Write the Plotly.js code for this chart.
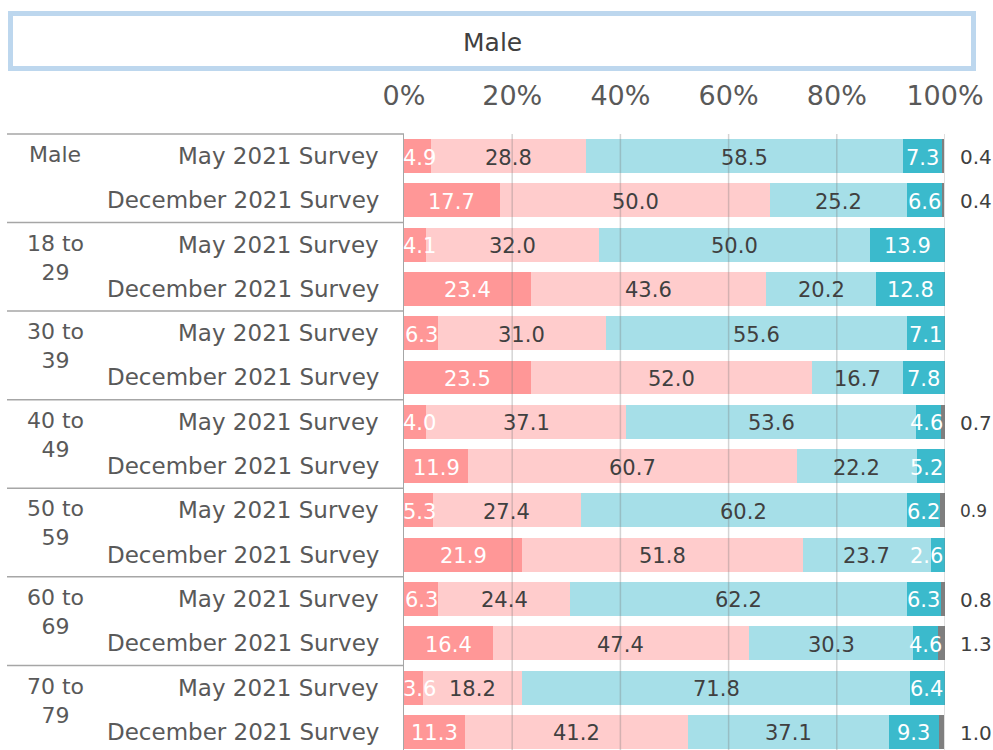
<!DOCTYPE html>
<html>
<head>
<meta charset="utf-8">
<script src="https://cdn.plot.ly/plotly-3.0.1.min.js"></script>
<style>html,body{margin:0;padding:0;background:#fff;}#chart{width:993px;height:750px;}</style>
</head>
<body>
<div id="chart"></div>
<script>
// ---- data ----
const chartTitle = 'Male';
const groupLabels = ['Male', '18 to<br>29', '30 to<br>39', '40 to<br>49', '50 to<br>59', '60 to<br>69', '70 to<br>79'];
const surveyLabels = ['May 2021 Survey', 'December 2021 Survey'];
const tickValues = [0, 20, 40, 60, 80, 100];
const tickLabels = ['0%', '20%', '40%', '60%', '80%', '100%'];

const seriesA = [4.9, 17.7, 4.1, 23.4, 6.3, 23.5, 4.0, 11.9, 5.3, 21.9, 6.3, 16.4, 3.6, 11.3];
const seriesB = [28.8, 50.0, 32.0, 43.6, 31.0, 52.0, 37.1, 60.7, 27.4, 51.8, 24.4, 47.4, 18.2, 41.2];
const seriesC = [58.5, 25.2, 50.0, 20.2, 55.6, 16.7, 53.6, 22.2, 60.2, 23.7, 62.2, 30.3, 71.8, 37.1];
const seriesD = [7.3, 6.6, 13.9, 12.8, 7.1, 7.8, 4.6, 5.2, 6.2, 2.6, 6.3, 4.6, 6.4, 9.3];
const seriesE = [0.4, 0.4, null, null, null, null, 0.7, null, 0.9, null, 0.8, 1.3, null, 1.0];

// ---- build ----
const rowLabels = [];
groupLabels.forEach(() => surveyLabels.forEach(s => rowLabels.push(s)));
const rows = rowLabels.map((_, i) => i);

const FONT = 'DejaVu Sans, Verdana, sans-serif';
const W = 993, H = 750, L = 404, R = 48, T = 134, B = 0;
const PW = W - L - R, PH = H - T - B;
const px2x = px => (px - L) / PW;
const py2y = py => (H - B - py) / PH;

const series = [
  {vals: seriesA, color: '#FF9797', text: '#FFFFFF'},
  {vals: seriesB, color: '#FFCCCC', text: '#404040'},
  {vals: seriesC, color: '#A6DFE8', text: '#404040'},
  {vals: seriesD, color: '#3BBACC', text: '#FFFFFF'},
  {vals: seriesE, color: '#7F7F7F', text: '#404040'}
];

const traces = [];
series.forEach(s => {
  traces.push({
    type: 'bar', orientation: 'h', y: rows, x: s.vals.map(v => v == null ? 0 : v),
    width: 0.767, marker: {color: s.color, line: {width: 0}},
    hoverinfo: 'skip', showlegend: false
  });
});

const annotations = [];

// in-bar labels (first four series)
const cum = rows.map(() => 0);
series.forEach((s, si) => {
  s.vals.forEach((v, i) => {
    if (v == null) return;
    const c = cum[i] + v / 2;
    cum[i] += v;
    if (si < 4) {
      annotations.push({
        xref: 'x', yref: 'y', x: Math.min(Math.max(c, 2.9), 96.6), y: i,
        xanchor: 'center', yanchor: 'middle', yshift: -1.5,
        text: v.toFixed(1), showarrow: false,
        font: {family: FONT, size: 21, color: s.text}
      });
    }
  });
});

// outside labels for the last series
seriesE.forEach((v, i) => {
  if (v == null) return;
  annotations.push({
    xref: 'x', yref: 'y', x: 100, y: i, xanchor: 'left', yanchor: 'middle', xshift: 13, yshift: -1,
    text: v.toFixed(1), showarrow: false,
    font: {family: FONT, size: v === 0.9 ? 17 : 20, color: '#404040'}
  });
});
// row labels
rowLabels.forEach((t, i) => {
  annotations.push({
    xref: 'paper', yref: 'y', x: px2x(381), y: i, xanchor: 'right', yanchor: 'middle',
    text: t, showarrow: false, font: {family: FONT, size: 23, color: '#595959'}
  });
});
// group labels
groupLabels.forEach((g, gi) => {
  annotations.push({
    xref: 'paper', yref: 'y', x: px2x(55), y: gi * 2 - 0.36, xanchor: 'center', yanchor: 'top',
    text: g, showarrow: false, font: {family: FONT, size: 22, color: '#595959'}
  });
});
// title
annotations.push({
  xref: 'paper', yref: 'paper', x: px2x(492), y: py2y(42), xanchor: 'center', yanchor: 'middle',
  text: chartTitle, showarrow: false, font: {family: FONT, size: 25, color: '#404040'}
});

const shapes = [];
// title box
shapes.push({
  type: 'rect', xref: 'paper', yref: 'paper',
  x0: px2x(10.5), x1: px2x(973.5), y0: py2y(68.5), y1: py2y(13.5),
  line: {color: '#BDD7EE', width: 5}, fillcolor: '#FFFFFF', layer: 'below'
});
// table lines
shapes.push({type: 'line', xref: 'paper', yref: 'paper', x0: px2x(7), x1: 0, y0: 1, y1: 1,
  line: {color: '#A6A6A6', width: 1.5}});
for (let g = 1; g < groupLabels.length; g++) {
  shapes.push({type: 'line', xref: 'paper', yref: 'y', x0: px2x(7), x1: 0, y0: g * 2 - 0.5, y1: g * 2 - 0.5,
    line: {color: '#A6A6A6', width: 1.5}});
}
// gridlines above bars
tickValues.slice(1).forEach(v => {
  shapes.push({type: 'line', xref: 'x', yref: 'paper', x0: v, x1: v, y0: 0, y1: 1, layer: 'above',
    line: {color: 'rgba(120,120,120,0.32)', width: 1.5}});
});

const layout = {
  width: W, height: H,
  margin: {l: L, r: R, t: T, b: B, pad: 0},
  paper_bgcolor: '#FFFFFF', plot_bgcolor: 'rgba(0,0,0,0)',
  barmode: 'stack', bargap: 0,
  showlegend: false,
  xaxis: {
    range: [0, 100], side: 'top', tickvals: tickValues, ticktext: tickLabels,
    ticks: 'outside', ticklen: 17, tickcolor: 'rgba(0,0,0,0)',
    tickfont: {family: FONT, size: 27, color: '#595959'},
    showgrid: false, zeroline: false, showline: false, fixedrange: true
  },
  yaxis: {
    range: [13.409, -0.4966], showticklabels: false, ticks: '',
    showgrid: false, zeroline: false, showline: true, linecolor: '#A6A6A6', linewidth: 1.5,
    fixedrange: true
  },
  annotations: annotations,
  shapes: shapes
};

Plotly.newPlot('chart', traces, layout, {displayModeBar: false, staticPlot: true});
</script>
</body>
</html>
